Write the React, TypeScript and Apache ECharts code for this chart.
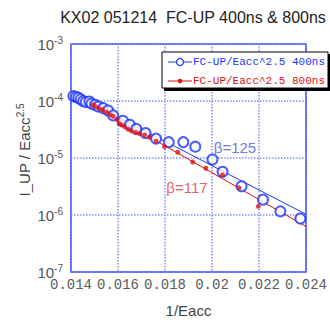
import React, { useEffect, useRef } from "react";
import * as echarts from "echarts";

const x400 = [0.0141, 0.01421, 0.01431, 0.01441, 0.01452, 0.01463, 0.01478, 0.01487, 0.01502, 0.01516, 0.01537, 0.01558, 0.01579, 0.01621, 0.0165, 0.01678, 0.01717, 0.01762, 0.01816, 0.01878, 0.01929, 0.02002, 0.02045, 0.02126, 0.02217, 0.02291, 0.02376];
const y400 = [1.22e-4, 1.19e-4, 1.14e-4, 1.07e-4, 1.0e-4, 9.6e-5, 9.8e-5, 9.0e-5, 8.6e-5, 8.0e-5, 7.5e-5, 6.8e-5, 5.6e-5, 4.5e-5, 3.84e-5, 3.24e-5, 2.74e-5, 2.19e-5, 1.9e-5, 1.9e-5, 1.58e-5, 9.4e-6, 5.75e-6, 3.2e-6, 1.86e-6, 1.16e-6, 8.7e-7];
const x800 = [0.01494, 0.01506, 0.0152, 0.01534, 0.01551, 0.01565, 0.01579, 0.01596, 0.01605, 0.01614, 0.01628, 0.01643, 0.01657, 0.01675, 0.01692, 0.01713, 0.01734, 0.01762, 0.01798, 0.01854, 0.01918, 0.01974, 0.02045, 0.02115, 0.02197];
const y800 = [8.6e-5, 7.9e-5, 7.4e-5, 7.0e-5, 6.4e-5, 5.8e-5, 5.4e-5, 4.7e-5, 4.0e-5, 3.8e-5, 3.55e-5, 3.2e-5, 3.0e-5, 2.8e-5, 2.67e-5, 2.53e-5, 2.31e-5, 1.98e-5, 1.58e-5, 1.26e-5, 8.5e-6, 6.6e-6, 5.06e-6, 3.0e-6, 1.42e-6];
const fitX = [0.0149, 0.024];
const fit400 = [9.0e-5, 1.03e-6];
const fit800 = [8.8e-5, 6.3e-7];
const xTicks = [0.014, 0.016, 0.018, 0.02, 0.022, 0.024];
const betaLabels = ["β=125", "β=117"];
const legendNames = ["FC-UP/Eacc^2.5 400ns", "FC-UP/Eacc^2.5 800ns"];
const title = "KX02 051214  FC-UP 400ns & 800ns";

const BLUE = "#1f35ff";
const RED = "#dd1111";

export default function App() {
  const ref = useRef<HTMLDivElement>(null);
  useEffect(() => {
    const chart = echarts.init(ref.current!, null, { renderer: "svg" });
    const pairs = (xs: number[], ys: number[]) => xs.map((x, i) => [x, ys[i]]);
    chart.setOption({
      animation: false,
      backgroundColor: "#fff",
      title: {
        text: title,
        left: 188,
        top: 4,
        textAlign: "center",
        textStyle: { fontFamily: "Liberation Sans, Arial", fontSize: 16, fontWeight: "normal", color: "#222" },
      },
      grid: { left: 71, top: 44, width: 236, height: 237, show: true, borderColor: "#2a3cf0", borderWidth: 1.5, backgroundColor: "#fff" },
      xAxis: {
        type: "value",
        min: 0.014,
        max: 0.024,
        interval: 0.002,
        name: "1/Eacc",
        nameLocation: "middle",
        nameGap: 31,
        nameTextStyle: { fontFamily: "Liberation Sans, Arial", fontSize: 15, color: "#444" },
        axisLine: { show: false },
        axisTick: { show: false },
        axisLabel: {
          margin: 6,
          fontFamily: "Liberation Mono, monospace",
          fontSize: 14,
          color: "#5a5a5a",
          formatter: (v: number) => String(+v.toFixed(3)),
        },
        splitLine: { show: true, lineStyle: { color: "#7d8cff", type: "dotted", width: 1.5 } },
      },
      yAxis: {
        type: "log",
        logBase: 10,
        min: 1e-7,
        max: 1e-3,
        axisLine: { show: false },
        axisTick: { show: false },
        axisLabel: {
          margin: 8,
          color: "#555",
          formatter: (v: number) => `10{sup|${Math.round(Math.log10(v))}}`,
          fontFamily: "Liberation Sans, Arial",
          fontSize: 15,
          rich: {
            sup: { fontSize: 10, verticalAlign: "top", padding: [0, 0, 8, 0], color: "#555", fontFamily: "Liberation Sans, Arial" },
          },
        },
        splitLine: { show: true, lineStyle: { color: "#7d8cff", type: "dotted", width: 1.5 } },
      },
      series: [
        { type: "line", data: pairs(fitX, fit400), symbol: "none", lineStyle: { color: BLUE, width: 1 }, z: 2 },
        { type: "line", data: pairs(fitX, fit800), symbol: "none", lineStyle: { color: RED, width: 1 }, z: 2 },
        { type: "scatter", data: pairs(x400, y400), symbol: "emptyCircle", symbolSize: 10, itemStyle: { color: BLUE, borderColor: BLUE, borderWidth: 1.3 }, z: 3 },
        { type: "scatter", data: pairs(x800, y800), symbol: "circle", symbolSize: 5, itemStyle: { color: RED }, z: 4 },
      ],
      graphic: [
        {
          type: "text",
          x: 24,
          y: 150,
          rotation: Math.PI / 2,
          style: {
            text: "I_UP / Eacc{sup|2.5}",
            fill: "#444",
            font: "15px Liberation Sans, Arial",
            align: "center",
            verticalAlign: "middle",
            rich: { sup: { fontSize: 10, verticalAlign: "top", padding: [0, 0, 8, 0], fill: "#444" } },
          },
        },
        { type: "text", x: 235, y: 147, style: { text: betaLabels[0], fill: "#6f7be0", font: "15px Liberation Sans, Arial", align: "center", verticalAlign: "middle" }, z: 10 },
        { type: "text", x: 187, y: 187, style: { text: betaLabels[1], fill: "#df6666", font: "15px Liberation Sans, Arial", align: "center", verticalAlign: "middle" }, z: 10 },
        { type: "rect", shape: { x: 164, y: 54, width: 167, height: 37 }, style: { fill: "#000" }, z: 10 },
        { type: "rect", shape: { x: 162, y: 52, width: 166, height: 36 }, style: { fill: "#fff", stroke: "#000", lineWidth: 1 }, z: 11 },
        { type: "line", shape: { x1: 168, y1: 62, x2: 192, y2: 62 }, style: { stroke: BLUE, lineWidth: 1 }, z: 12 },
        { type: "circle", shape: { cx: 180, cy: 62, r: 3.5 }, style: { fill: "#fff", stroke: BLUE, lineWidth: 1.3 }, z: 13 },
        { type: "line", shape: { x1: 168, y1: 81, x2: 192, y2: 81 }, style: { stroke: RED, lineWidth: 1 }, z: 12 },
        { type: "circle", shape: { cx: 180, cy: 81, r: 2.2 }, style: { fill: RED }, z: 13 },
        { type: "text", x: 193, y: 62, style: { text: legendNames[0], fill: BLUE, font: "11px Liberation Mono, monospace", align: "left", verticalAlign: "middle" }, z: 13 },
        { type: "text", x: 193, y: 81, style: { text: legendNames[1], fill: RED, font: "11px Liberation Mono, monospace", align: "left", verticalAlign: "middle" }, z: 13 },
      ],
    });
    return () => chart.dispose();
  }, []);
  return <div ref={ref} style={{ position: "absolute", left: 0, top: 0, width: 330, height: 323 }} />;
}
